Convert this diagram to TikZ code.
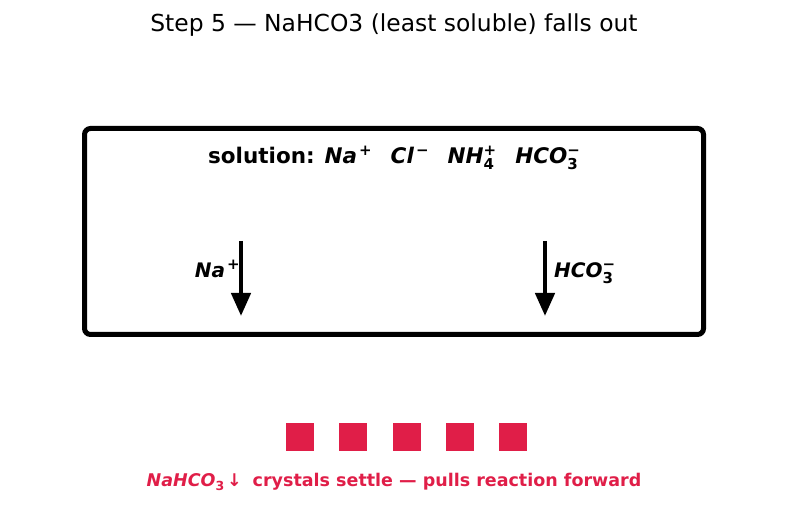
\documentclass[tikz,border=0pt]{standalone}
\usepackage{fontspec}
\setmainfont{DejaVu Sans}
\usetikzlibrary{arrows.meta}
\definecolor{crystal}{RGB}{224,30,72}
% stacked sub/superscript for ion formulas
\newcommand{\subsup}[2]{{\fontsize{15}{15}\selectfont\bfseries\upshape
  \setbox0\hbox{\raisebox{-6pt}{#1}}\setbox2\hbox{\raisebox{8pt}{#2}}%
  \ifdim\wd0>\wd2 \rlap{\box2}\box0\else\rlap{\box0}\box2\fi}}
\newcommand{\ionup}[1]{{\fontsize{15}{15}\selectfont\bfseries\upshape\kern2pt\raisebox{8pt}{#1}}}
\newcommand{\iondown}[1]{{\fontsize{12.5}{12.5}\selectfont\bfseries\upshape\raisebox{-4pt}{#1}}}
\begin{document}
\begin{tikzpicture}[x=1pt, y=-1pt,
    frame/.style={draw, line width=5pt, rounded corners=6pt},
    ion/.style={font=\fontsize{21.5}{24}\selectfont\bfseries, inner sep=0pt},
    lbl/.style={ion, font=\fontsize{20}{22}\selectfont\bfseries},
    fall/.style={line width=4.5pt, -{Triangle[width=19pt,length=23pt]}},
    crys/.style={rectangle, fill=crystal, minimum width=28pt, minimum height=28pt, inner sep=0pt}
]
    \useasboundingbox (0,0) rectangle (787,510);

    \node[font=\fontsize{23.4}{28}\selectfont] (title) at (394,25)
        {Step 5 — NaHCO3 (least soluble) falls out};

    \draw[frame] (84.5,128.5) rectangle (703.5,334.5);
    \node[ion, anchor=base] (sol) at (394,164) {solution: \textit{Na}\ionup{+}\hspace{19pt}\textit{Cl}\ionup{−}\hspace{19pt}\textit{NH}\subsup{4}{+}\hspace{19pt}\textit{HCO}\subsup{3}{−}};

    \coordinate (na top) at (241,241);
    \coordinate (na bot) at (241,316);
    \coordinate (hco top) at (545,241);
    \coordinate (hco bot) at (545,316);

    \draw[fall] (na top) -- (na bot);
    \draw[fall] (hco top) -- (hco bot);

    \node[lbl, anchor=base east] (na) at (240,277.5) {\textit{Na}\ionup{+}};
    \node[lbl, anchor=base west] (hco) at (554,277.5) {\textit{HCO}\subsup{3}{−}};

    % NaHCO3 crystals
    \foreach \i in {0,...,4} {
        \node[crys] (c\i) at (300+\i*53.25, 437) {};
    }

    \node[font=\fontsize{17.5}{20}\selectfont\bfseries, text=crystal, anchor=base] (note) at (394,486)
        {\textit{NaHCO}\iondown{3}\,↓\; crystals settle — pulls reaction forward};
\end{tikzpicture}
\end{document}
